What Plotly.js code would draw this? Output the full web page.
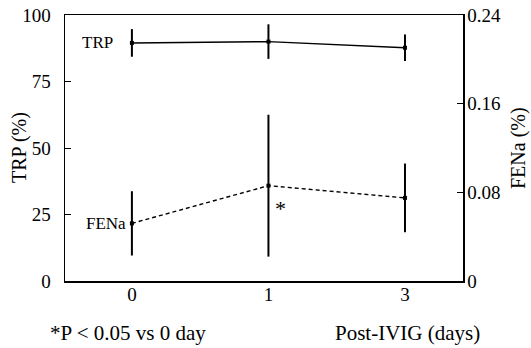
<!DOCTYPE html>
<html>
<head>
<meta charset="utf-8">
<script src="https://cdn.plot.ly/plotly-3.0.1.min.js"></script>
<style>html,body{margin:0;padding:0;background:#fff;}#chart{width:531px;height:348px;}</style>
</head>
<body>
<div id="chart"></div>
<script>
// Data
var days = ['0', '1', '3'];
var dayPos = [0, 1, 2];
var trpMean = [89.5, 90.0, 87.7];
var trpErr = [5.2, 6.5, 5.0];
var fenaMean = [0.052, 0.086, 0.075];
var fenaErr = [0.029, 0.064, 0.031];
var trpTicks = [0, 25, 50, 75, 100];
var fenaTicks = [0, 0.08, 0.16, 0.24];
var fenaTickText = ['0', '0.08', '0.16', '0.24'];

var FONT = 'Liberation Serif, Times New Roman, serif';

var traces = [
  {
    x: dayPos, y: trpMean, type: 'scatter', mode: 'lines+markers',
    line: {color: '#000', width: 1.4},
    marker: {symbol: 'square', size: 4, color: '#000'},
    error_y: {type: 'data', array: trpErr, visible: true, color: '#000', thickness: 2, width: 0},
    yaxis: 'y', showlegend: false
  },
  {
    x: dayPos, y: fenaMean, type: 'scatter', mode: 'lines+markers',
    line: {color: '#000', width: 1.4, dash: '4px,3px'},
    marker: {symbol: 'square', size: 4, color: '#000'},
    error_y: {type: 'data', array: fenaErr, visible: true, color: '#000', thickness: 2, width: 0},
    yaxis: 'y2', showlegend: false
  }
];

var layout = {
  width: 531, height: 348,
  margin: {l: 65, r: 68, t: 15, b: 67},
  paper_bgcolor: '#fff', plot_bgcolor: '#fff',
  font: {family: FONT, size: 19, color: '#000'},
  xaxis: {
    range: [-0.49, 2.425], tickvals: dayPos, ticktext: days,
    showline: true, linecolor: '#000', linewidth: 1.5, mirror: true,
    ticks: '', showgrid: false, zeroline: false, ticklabelstandoff: -4,
    tickfont: {family: FONT, size: 19, color: '#000'}
  },
  yaxis: {
    range: [0, 100], tickvals: trpTicks,
    showline: true, linecolor: '#000', linewidth: 1.5,
    ticks: 'inside', ticklen: 6, tickcolor: '#000', tickwidth: 1,
    showgrid: false, zeroline: false, ticklabelstandoff: 9,
    tickfont: {family: FONT, size: 19, color: '#000'}
  },
  yaxis2: {
    range: [0, 0.24], tickvals: fenaTicks, ticktext: fenaTickText,
    overlaying: 'y', side: 'right',
    showline: true, linecolor: '#000', linewidth: 1.5,
    ticks: 'inside', ticklen: 6, tickcolor: '#000', tickwidth: 1,
    showgrid: false, zeroline: false, ticklabelstandoff: -1,
    tickfont: {family: FONT, size: 19, color: '#000'}
  },
  annotations: [
    {text: 'TRP', xref: 'paper', yref: 'y', x: 0, y: 89.5, xanchor: 'left', yanchor: 'middle', showarrow: false,
     font: {family: FONT, size: 17}, xshift: 15},
    {text: 'FENa', xref: 'x', yref: 'y2', x: 0, y: 0.052, xanchor: 'right', yanchor: 'middle', showarrow: false,
     font: {family: FONT, size: 17}, xshift: -4},
    {text: '*', xref: 'x', yref: 'y2', x: 1, y: 0.086, xanchor: 'left', yanchor: 'top', showarrow: false,
     font: {family: FONT, size: 22}, xshift: 5, yshift: -8},
    {text: 'TRP (%)', xref: 'paper', yref: 'paper', x: 0, y: 0.5, xanchor: 'center', yanchor: 'middle', textangle: -90,
     showarrow: false, font: {family: FONT, size: 20}, xshift: -46},
    {text: 'FENa (%)', xref: 'paper', yref: 'paper', x: 1, y: 0.5, xanchor: 'center', yanchor: 'middle', textangle: -90,
     showarrow: false, font: {family: FONT, size: 20}, xshift: 55},
    {text: '*P < 0.05 vs 0 day', xref: 'paper', yref: 'paper', x: 0, y: 0, xanchor: 'left', yanchor: 'middle',
     showarrow: false, font: {family: FONT, size: 21}, xshift: -17, yshift: -52},
    {text: 'Post-IVIG (days)', xref: 'paper', yref: 'paper', x: 1, y: 0, xanchor: 'right', yanchor: 'middle',
     showarrow: false, font: {family: FONT, size: 21}, xshift: 19, yshift: -52}
  ]
};

Plotly.newPlot('chart', traces, layout, {displayModeBar: false, staticPlot: true});
</script>
</body>
</html>
